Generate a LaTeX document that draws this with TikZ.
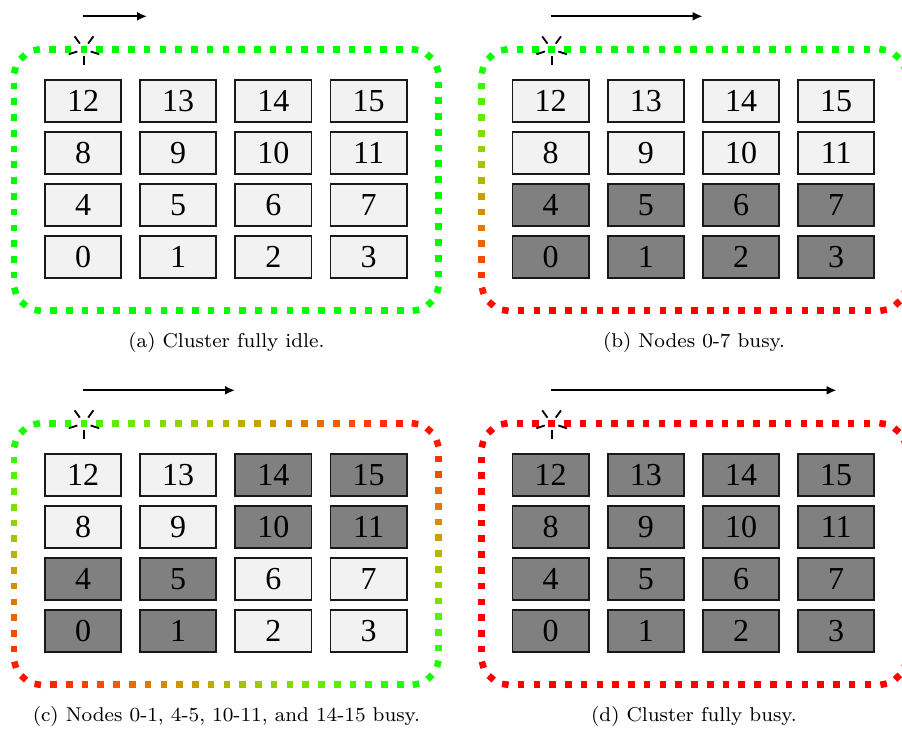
\documentclass[tikz,border=0pt]{standalone}
\usepackage{fontspec}
\newfontfamily\numfont{Liberation Serif}
\usetikzlibrary{decorations.markings,arrows.meta}
\definecolor{idlec}{HTML}{F2F2F2}
\definecolor{busyc}{HTML}{808080}
\tikzset{
  cell/.style={draw=black!90, line width=1.8pt, minimum width=76.2pt, minimum height=42.2pt,
    inner sep=0pt, font={\numfont\fontsize{32pt}{32pt}\selectfont}},
  captext/.style={font={\fontsize{8pt}{9.5pt}\selectfont}, scale=2.5, anchor=base, inner sep=0pt},
  ray/.style={line width=1.8pt, black},
  loadarrow/.style={line width=2pt, -{Latex[length=10pt,width=9pt]}},
}
% one coloured dash of the border; colour from the load at its place
\newcommand\dashmark[6]{%
  \pgfpointtransformed{\pgfpointorigin}\pgfgetlastxy{\mkx}{\mky}%
  \pgfmathsetmacro\mku{min(1,max(0,(\mkx-#1-14)/424.7))}%
  \pgfmathsetmacro\mkv{min(1,max(0,(-\mky-#2-49.3)/261.4))}%
  \pgfmathsetmacro\mkt{(1-\mku)*(1-\mkv)*#3+\mku*(1-\mkv)*#4+(1-\mku)*\mkv*#5+\mku*\mkv*#6}%
  \pgfmathsetmacro\mkr{max(0,min(1,sin(90*\mkt)))}%
  \pgfmathsetmacro\mkg{max(0,min(1,cos(90*\mkt)))}%
  \definecolor{dashc}{rgb}{\mkr,\mkg,0}%
  \fill[dashc, sharp corners] (-3.3pt,-3.3pt) rectangle (3.3pt,3.3pt);}
% #1 name, #2 dx, #3 dy, #4-#7 load at TL,TR,BL,BR, #8 busy nodes, #9 arrow end
\newcommand\clusterpanel[9]{%
  \begin{scope}[shift={(#2,#3)}]
    \path[rounded corners=28pt, decorate, decoration={markings,
        mark=between positions 0 and 1 step 15.763pt with {\dashmark{#2}{#3}{#4}{#5}{#6}{#7}}}]
      (84,49.3) -- (438.7,49.3) -- (438.7,310.7) -- (14,310.7) -- (14,49.3) -- (84,49.3);
    \coordinate (#1sp) at (84,49.3);
    \foreach \a in {-90,-18,54,126,198}
      \draw[ray] (#1sp) ++(\a:7pt) -- ++(\a:9pt);
    \foreach \b in {#8}{\expandafter\gdef\csname isbusy#1\b\endcsname{}}
    \foreach \n in {0,...,15}{%
      \pgfmathtruncatemacro\ccol{mod(\n,4)}%
      \pgfmathtruncatemacro\crow{3-div(\n,4)}%
      \ifcsname isbusy#1\n\endcsname\def\cellfill{busyc}\else\def\cellfill{idlec}\fi
      \node[cell, fill=\cellfill] (#1\n) at ({83+95.2*\ccol},{101+52*\crow}) {\raisebox{-1.5pt}{\n}};
    }
    \coordinate (#1as) at (83,16.3);
    \coordinate (#1ae) at (#9,16.3);
    \draw[loadarrow] (#1as) -- (#1ae);
  \end{scope}}
\begin{document}
\begin{tikzpicture}[x=1pt,y=-1pt]
\useasboundingbox (0,0) rectangle (902,731);
\clusterpanel{a}{0}{0}{0}{0}{0}{0}{-1}{147}
\clusterpanel{b}{467.6}{0}{0}{0}{1}{1}{0,1,2,3,4,5,6,7}{235}
\clusterpanel{c}{0}{374}{0}{1}{1}{0}{0,1,4,5,10,11,14,15}{235}
\clusterpanel{d}{467.6}{374}{1}{1}{1}{1}{0,1,2,3,4,5,6,7,8,9,10,11,12,13,14,15}{369}
\node[captext] (capa) at (226.4,347) {(a) Cluster fully idle.};
\node[captext] (capb) at (694,347) {(b) Nodes 0-7 busy.};
\node[captext] (capc) at (226.4,721) {(c) Nodes 0-1, 4-5, 10-11, and 14-15 busy.};
\node[captext] (capd) at (694,721) {(d) Cluster fully busy.};
\end{tikzpicture}
\end{document}
